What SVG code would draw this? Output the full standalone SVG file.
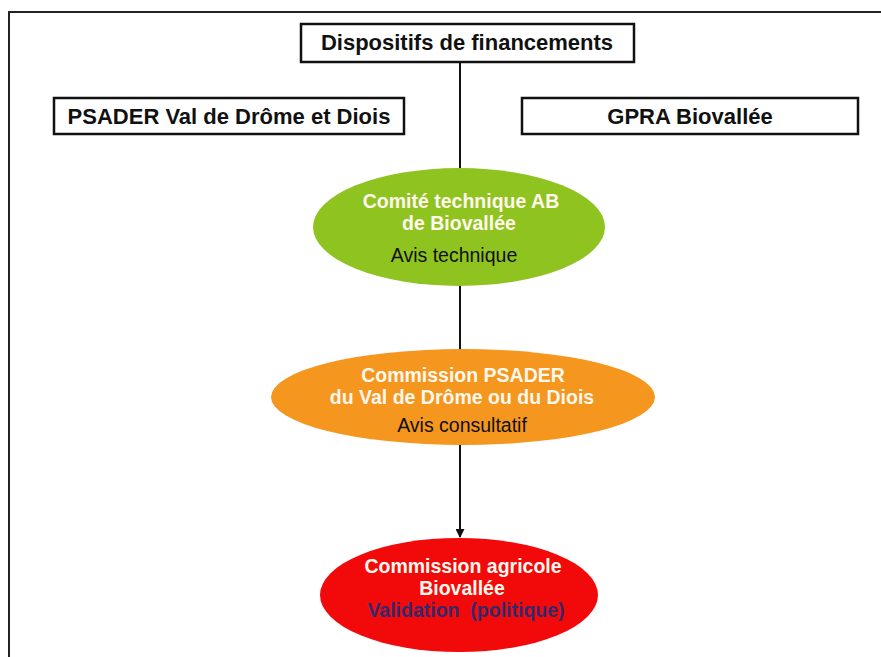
<svg xmlns="http://www.w3.org/2000/svg" width="881" height="657" viewBox="0 0 881 657">
<style>
.box{fill:#fff;stroke:#111;stroke-width:2.5}
.hd{font-family:"Liberation Sans",Arial,sans-serif;font-weight:bold;font-size:22px;fill:#111;text-anchor:middle}
.wt{font-family:"Liberation Sans",Arial,sans-serif;font-weight:bold;font-size:19.5px;fill:#fff8ee;text-anchor:middle}
.bk{font-family:"Liberation Sans",Arial,sans-serif;font-size:19.5px;fill:#111;text-anchor:middle}
.conn{stroke:#111;stroke-width:2;fill:none}
</style>
<defs>
<marker id="arr" markerWidth="9" markerHeight="9" refX="8" refY="4.5" orient="auto" markerUnits="userSpaceOnUse">
<path d="M0,0 L9,4.5 L0,9 Z" fill="#111"/>
</marker>
</defs>
<rect width="881" height="657" fill="#fff"/>
<rect x="9" y="12" width="890" height="660" fill="none" stroke="#222" stroke-width="2"/>
<g id="connectors">
<line class="conn" x1="460" y1="62" x2="460" y2="169"/>
<line class="conn" x1="460" y1="286" x2="460" y2="350"/>
<line class="conn" x1="460" y1="445" x2="460" y2="537" marker-end="url(#arr)"/>
</g>
<g id="dispositifs">
<rect class="box" x="301" y="24" width="333" height="38"/>
<text class="hd" x="467" y="50">Dispositifs de financements</text>
</g>
<g id="psader">
<rect class="box" x="54" y="98" width="350" height="36"/>
<text class="hd" x="229" y="124">PSADER Val de Drôme et Diois</text>
</g>
<g id="gpra">
<rect class="box" x="522" y="98" width="336" height="36"/>
<text class="hd" x="690" y="124">GPRA Biovallée</text>
</g>
<g id="comite">
<ellipse cx="459" cy="227" rx="146" ry="59" fill="#8fc31f"/>
<text class="wt" x="461" y="208">Comité technique AB</text>
<text class="wt" x="459" y="230">de Biovallée</text>
<text class="bk" x="454" y="262">Avis technique</text>
</g>
<g id="commission-psader">
<ellipse cx="463" cy="397" rx="192" ry="48" fill="#f5961e"/>
<text class="wt" x="463" y="382">Commission PSADER</text>
<text class="wt" x="462" y="404">du Val de Drôme ou du Diois</text>
<text class="bk" x="462" y="432">Avis consultatif</text>
</g>
<g id="commission-agricole">
<ellipse cx="459" cy="595" rx="139" ry="57" fill="#f20a0a"/>
<text class="wt" x="463" y="573">Commission agricole</text>
<text class="wt" x="462" y="595">Biovallée</text>
<text class="wt" x="466" y="617" style="fill:#34296c;white-space:pre" xml:space="preserve">Validation  (politique)</text>
</g>
</svg>
